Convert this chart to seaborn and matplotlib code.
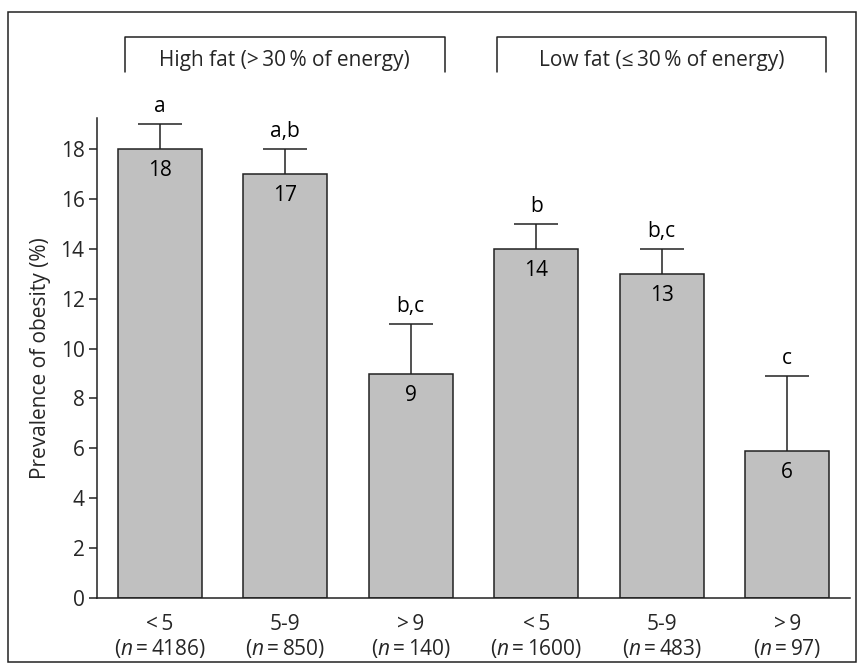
import pandas as pd
import seaborn as sns
import matplotlib.pyplot as plt
from matplotlib.patches import Rectangle

# Data
age_groups = ['<\u20095', '5-9', '>\u20099', '<\u20095', '5-9', '>\u20099']
n_counts = [4186, 850, 140, 1600, 483, 97]
prevalence = [18, 17, 9, 14, 13, 5.9]
error_up = [1, 1, 2, 1, 1, 3]
letters = ['a', 'a,b', 'b,c', 'b', 'b,c', 'c']
value_labels = ['18', '17', '9', '14', '13', '6']
group_titles = ['High fat (>\u200930\u2009% of energy)', 'Low fat (\u2264\u200930\u2009% of energy)']

sns.set_style('white')
plt.rcParams['font.family'] = ['Open Sans', 'DejaVu Sans']
plt.rcParams['mathtext.fontset'] = 'custom'
plt.rcParams['mathtext.it'] = 'Open Sans:italic'
plt.rcParams['mathtext.rm'] = 'Open Sans'

ink = '#222222'
fs = 15

# tick labels, unique per bar
labels = [f'{g}\n($\\mathit{{n}}$\u2009=\u2009{n})' for g, n in zip(age_groups, n_counts)]
df = pd.DataFrame({'label': labels, 'value': prevalence, 'err': error_up})

fig = plt.figure(figsize=(8.62, 6.70), dpi=100)
ax = fig.add_axes([0.1125, 0.1075, 0.8736, 0.7164])

sns.barplot(data=df, x='label', y='value', color='#c0c0c0', saturation=1,
            edgecolor=ink, linewidth=1.1, width=0.67, ax=ax)

# upper-only error bars
xs = list(range(len(df)))
tops = df['value'] + df['err']
ax.vlines(xs, df['value'], tops, color=ink, linewidth=1.1)
ax.hlines(tops, [x - 0.175 for x in xs], [x + 0.175 for x in xs], color=ink, linewidth=1.1)

for x, v, t, lab, let in zip(xs, df['value'], tops, value_labels, letters):
    ax.annotate(lab, (x, v), xytext=(0, -8), textcoords='offset points',
                ha='center', va='top', fontsize=fs, color='black')
    ax.annotate(let, (x, t), xytext=(0, 5), textcoords='offset points',
                ha='center', va='bottom', fontsize=fs, color='black')

ax.set_xlim(-0.5, 5.5)
ax.set_ylim(0, 19.25)
ax.set_yticks(range(0, 19, 2))
ax.set_xlabel('')
ax.set_ylabel('Prevalence of obesity (%)', fontsize=fs, labelpad=7)
ax.tick_params(axis='y', which='major', left=True, length=6, width=1.1, color=ink,
               labelsize=fs, pad=3)
ax.tick_params(axis='x', bottom=False, labelsize=fs, pad=8)
for lab in ax.get_xticklabels():
    lab.set_linespacing(1.1)
sns.despine(ax=ax, top=True, right=True)
for s in ['left', 'bottom']:
    ax.spines[s].set_color(ink)
    ax.spines[s].set_linewidth(1.1)

# group brackets above the plot
brackets = [(-0.28, 2.27), (2.69, 5.31)]
for (x0, x1), title in zip(brackets, group_titles):
    ax.plot([x0, x0, x1, x1], [21.1, 22.5, 22.5, 21.1], color=ink, linewidth=1.1,
            clip_on=False)
    ax.text((x0 + x1) / 2, 21.55, title, ha='center', va='center', fontsize=fs)

# outer frame
fig.patches.append(Rectangle((0.0093, 0.012), 0.984, 0.970, transform=fig.transFigure,
                             fill=False, edgecolor=ink, linewidth=1.1))

fig.savefig('out.png', dpi=100)
